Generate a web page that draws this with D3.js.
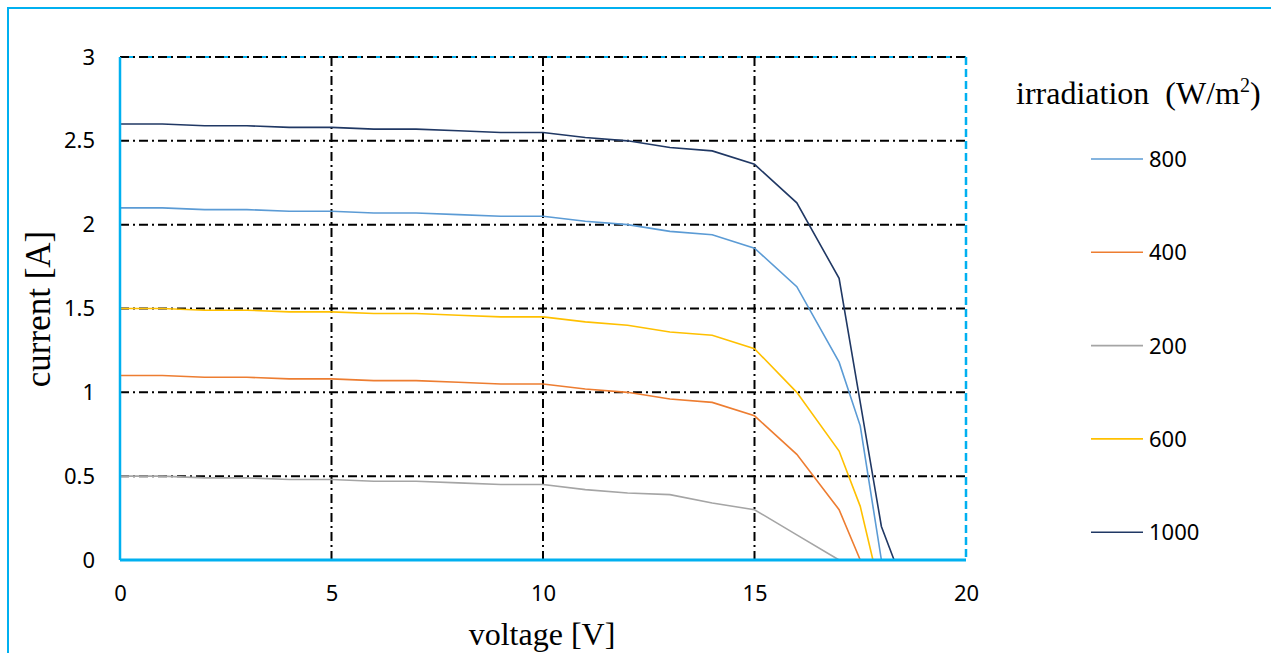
<!DOCTYPE html>
<html>
<head>
<meta charset="utf-8">
<script src="https://cdn.jsdelivr.net/npm/d3@7"></script>
<style>
  body { margin: 0; background: #fff; }
  svg { display: block; }
</style>
</head>
<body>
<div id="chart"></div>
<script>
// voltage points [V]
var voltage = [0, 1, 2, 3, 4, 5, 6, 7, 8, 9, 10, 11, 12, 13, 14, 15, 16, 17];

// current [A] for each irradiation level
var i800 = [2.1, 2.1, 2.09, 2.09, 2.08, 2.08, 2.07, 2.07, 2.06, 2.05, 2.05, 2.02, 2.0, 1.96, 1.94, 1.86, 1.63, 1.18];
var i400 = [1.1, 1.1, 1.09, 1.09, 1.08, 1.08, 1.07, 1.07, 1.06, 1.05, 1.05, 1.02, 1.0, 0.96, 0.94, 0.86, 0.63, 0.30];
var i200 = [0.5, 0.5, 0.49, 0.49, 0.48, 0.48, 0.47, 0.47, 0.46, 0.45, 0.45, 0.42, 0.40, 0.39, 0.34, 0.30, 0.15, 0];
var i600 = [1.5, 1.5, 1.49, 1.49, 1.48, 1.48, 1.47, 1.47, 1.46, 1.45, 1.45, 1.42, 1.40, 1.36, 1.34, 1.26, 1.0, 0.65];
var i1000 = [2.6, 2.6, 2.59, 2.59, 2.58, 2.58, 2.57, 2.57, 2.56, 2.55, 2.55, 2.52, 2.5, 2.46, 2.44, 2.36, 2.13, 1.68];

// tail of each curve past 17 V down to open circuit
var tail800 = [[17.5, 0.8], [18.0, 0]];
var tail400 = [[17.5, 0]];
var tail200 = [];
var tail600 = [[17.5, 0.32], [17.8, 0]];
var tail1000 = [[18.0, 0.2], [18.3, 0]];

var names = ['800', '400', '200', '600', '1000'];
var colors = ['#5B9BD5', '#ED7D31', '#A5A5A5', '#FFC000', '#203864'];

var xTicks = [0, 5, 10, 15, 20];
var yTicks = [0, 0.5, 1, 1.5, 2, 2.5, 3];

function build(vals, tail) {
  var pts = voltage.map(function (v, i) { return [v, vals[i]]; });
  return pts.concat(tail);
}

var series = [
  build(i800, tail800),
  build(i400, tail400),
  build(i200, tail200),
  build(i600, tail600),
  build(i1000, tail1000)
];

var width = 1271, height = 653;
var svg = d3.select("#chart").append("svg")
  .attr("width", width)
  .attr("height", height);

// outer chart frame (only top and left edges fall inside the picture)
svg.append("rect")
  .attr("x", 8).attr("y", 8)
  .attr("width", 1400).attr("height", 800)
  .attr("fill", "none")
  .attr("stroke", "#00B0F0")
  .attr("stroke-width", 2);

var x = d3.scaleLinear().domain([0, 20]).range([120, 966]);
var y = d3.scaleLinear().domain([0, 3]).range([560, 57]);

var grid = "9,4,2,4";
var tickFont = "'Noto Sans', sans-serif";
var titleFont = "'Liberation Serif', 'Times New Roman', serif";

// horizontal grid
svg.append("g").selectAll("line")
  .data(yTicks.filter(function (d) { return d > 0; }))
  .enter().append("line")
  .attr("x1", x(0)).attr("x2", x(20))
  .attr("y1", function (d) { return y(d); })
  .attr("y2", function (d) { return y(d); })
  .attr("stroke", "#000")
  .attr("stroke-width", 2)
  .attr("stroke-dasharray", grid);

// vertical grid
svg.append("g").selectAll("line")
  .data([5, 10, 15])
  .enter().append("line")
  .attr("x1", function (d) { return x(d); })
  .attr("x2", function (d) { return x(d); })
  .attr("y1", y(3)).attr("y2", y(0))
  .attr("stroke", "#000")
  .attr("stroke-width", 2)
  .attr("stroke-dasharray", grid);

// blue dashed top and right edges of plot
svg.append("line")
  .attr("x1", x(0)).attr("x2", x(20))
  .attr("y1", y(3)).attr("y2", y(3))
  .attr("stroke", "#00B0F0")
  .attr("stroke-width", 2)
  .attr("stroke-dasharray", "4,15")
  .attr("stroke-dashoffset", -9);
svg.append("line")
  .attr("x1", x(20)).attr("x2", x(20))
  .attr("y1", y(3)).attr("y2", y(0))
  .attr("stroke", "#00B0F0")
  .attr("stroke-width", 2.5)
  .attr("stroke-dasharray", "8,4");

// curves
var line = d3.line()
  .x(function (d) { return x(d[0]); })
  .y(function (d) { return y(d[1]); });

svg.append("g").selectAll("path")
  .data(series)
  .enter().append("path")
  .attr("d", line)
  .attr("fill", "none")
  .attr("stroke", function (d, i) { return colors[i]; })
  .attr("stroke-width", 1.6);

// axes as solid blue lines
svg.append("line")
  .attr("x1", x(0)).attr("x2", x(0))
  .attr("y1", y(3)).attr("y2", y(0))
  .attr("stroke", "#00B0F0").attr("stroke-width", 2.5);
svg.append("line")
  .attr("x1", x(0)).attr("x2", x(20))
  .attr("y1", y(0)).attr("y2", y(0))
  .attr("stroke", "#00B0F0").attr("stroke-width", 3);

// tick labels
var yAxis = d3.axisLeft(y).tickValues(yTicks).tickSize(0).tickPadding(25)
  .tickFormat(d3.format("~g"));
var gy = svg.append("g").attr("transform", "translate(" + x(0) + ",0)").call(yAxis);
gy.select(".domain").remove();
gy.selectAll("text")
  .style("font-family", tickFont)
  .style("font-size", "22px")
  .attr("fill", "#000");

var xAxis = d3.axisBottom(x).tickValues(xTicks).tickSize(0).tickPadding(25);
var gx = svg.append("g").attr("transform", "translate(0," + y(0) + ")").call(xAxis);
gx.select(".domain").remove();
gx.selectAll("text")
  .style("font-family", tickFont)
  .style("font-size", "22px")
  .attr("fill", "#000");

// axis titles
svg.append("text")
  .attr("x", 542).attr("y", 645)
  .attr("text-anchor", "middle")
  .style("font-family", titleFont)
  .style("font-size", "32px")
  .text("voltage [V]");

svg.append("text")
  .attr("transform", "translate(50,309) rotate(-90)")
  .attr("text-anchor", "middle")
  .style("font-family", titleFont)
  .style("font-size", "35px")
  .text("current [A]");

// legend
var legTitle = svg.append("text")
  .attr("x", 1016).attr("y", 104)
  .style("font-family", titleFont)
  .style("font-size", "32px")
  .text("irradiation\u00a0\u00a0(W/m");
legTitle.append("tspan").attr("dy", -12).style("font-size", "20px").text("2");
legTitle.append("tspan").attr("dy", 12).text(")");

var leg = svg.append("g").selectAll("g")
  .data(names)
  .enter().append("g")
  .attr("transform", function (d, i) { return "translate(1091," + (159 + i * 93.3) + ")"; });
leg.append("line")
  .attr("x1", 0).attr("x2", 52)
  .attr("stroke", function (d, i) { return colors[i]; })
  .attr("stroke-width", 1.6);
leg.append("text")
  .attr("x", 58).attr("dy", "0.36em")
  .style("font-family", tickFont)
  .style("font-size", "22px")
  .text(function (d) { return d; });
</script>
</body>
</html>
